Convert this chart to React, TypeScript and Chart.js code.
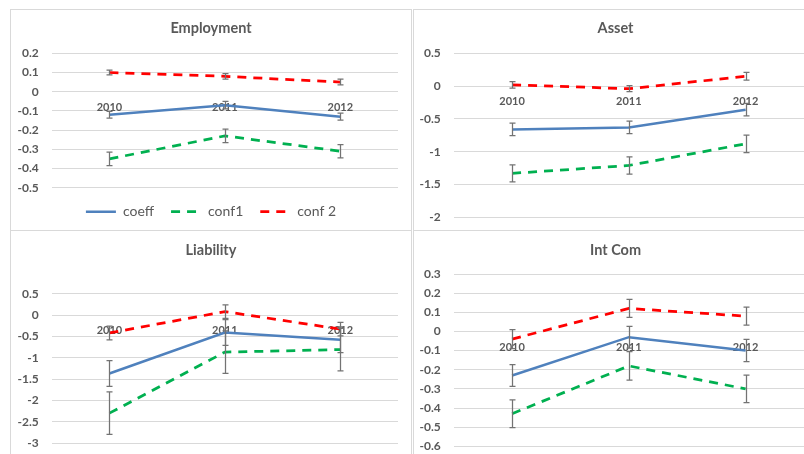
import { useEffect, useRef } from 'react';
import { Chart, registerables } from 'chart.js';

Chart.register(...registerables);
Chart.defaults.font.family = 'Lato, "Noto Sans", sans-serif';

// Category axis
const YEARS = ['2010', '2011', '2012'];
const SERIES_NAMES = ['coeff', 'conf1', 'conf 2'];

// Employment
const EMP_COEFF = [-0.12, -0.07, -0.13];
const EMP_CONF1 = [-0.35, -0.23, -0.31];
const EMP_CONF2 = [0.1, 0.08, 0.05];
const EMP_COEFF_ERR = [0.017, 0.02, 0.018];
const EMP_CONF1_ERR = [0.035, 0.035, 0.035];
const EMP_CONF2_ERR = [0.013, 0.014, 0.015];
const EMP_RANGE = [-0.5, 0.2, 0.1];

// Asset
const AST_COEFF = [-0.66, -0.63, -0.36];
const AST_CONF1 = [-1.33, -1.21, -0.88];
const AST_CONF2 = [0.02, -0.04, 0.15];
const AST_COEFF_ERR = [0.095, 0.095, 0.095];
const AST_CONF1_ERR = [0.13, 0.13, 0.133];
const AST_CONF2_ERR = [0.05, 0.046, 0.06];
const AST_RANGE = [-2, 0.5, 0.5];

// Liability
const LIA_COEFF = [-1.37, -0.41, -0.58];
const LIA_CONF1 = [-2.3, -0.87, -0.81];
const LIA_CONF2 = [-0.42, 0.08, -0.33];
const LIA_COEFF_ERR = [0.3, 0.3, 0.3];
const LIA_CONF1_ERR = [0.5, 0.5, 0.5];
const LIA_CONF2_ERR = [0.16, 0.16, 0.16];
const LIA_RANGE = [-3, 0.5, 0.5];

// Int Com
const INT_COEFF = [-0.23, -0.03, -0.1];
const INT_CONF1 = [-0.43, -0.18, -0.3];
const INT_CONF2 = [-0.04, 0.12, 0.08];
const INT_COEFF_ERR = [0.057, 0.057, 0.058];
const INT_CONF1_ERR = [0.072, 0.074, 0.072];
const INT_CONF2_ERR = [0.05, 0.047, 0.047];
const INT_RANGE = [-0.6, 0.3, 0.1];

const BLUE = '#4f81bd';
const GREEN = '#00b050';
const RED = '#ff0000';
const TEXT = '#595959';
const GRID = '#d9d9d9';
const ERR = '#737373';
const DASH = [9, 7];

// Draws symmetric error bars from each dataset's errorBars array
const errorBarPlugin = {
  id: 'errorBars',
  afterDatasetsDraw(chart: any) {
    const { ctx } = chart;
    const yScale = chart.scales.y;
    ctx.save();
    ctx.strokeStyle = ERR;
    ctx.lineWidth = 1.25;
    ctx.setLineDash([]);
    chart.data.datasets.forEach((ds: any, i: number) => {
      const meta = chart.getDatasetMeta(i);
      meta.data.forEach((pt: any, j: number) => {
        const v = ds.data[j];
        const e = ds.errorBars[j];
        const x = Math.round(pt.x) + 0.5;
        const yTop = yScale.getPixelForValue(v + e);
        const yBot = yScale.getPixelForValue(v - e);
        ctx.beginPath();
        ctx.moveTo(x, yTop);
        ctx.lineTo(x, yBot);
        ctx.moveTo(x - 3, yTop);
        ctx.lineTo(x + 3, yTop);
        ctx.moveTo(x - 3, yBot);
        ctx.lineTo(x + 3, yBot);
        ctx.stroke();
      });
    });
    ctx.restore();
  },
};

// Lets the value-axis labels use the whole left margin instead of being
// clipped to the axis box (the layout padding keeps the title centred).
const labelRoomPlugin = {
  id: 'labelRoom',
  afterLayout(chart: any) {
    if (chart.scales.y) chart.scales.y.left = 0;
  },
};

type Spec = {
  title: string;
  coeff: number[];
  conf1: number[];
  conf2: number[];
  errs: number[][];
  range: number[];
  legend: boolean;
  left: number;
  top: number;
  width: number;
  height: number;
  axisWidth: number;
  titleTop: number;
  titleBottom: number;
  padBottom: number;
};

const PANELS: Spec[] = [
  {
    title: 'Employment', coeff: EMP_COEFF, conf1: EMP_CONF1, conf2: EMP_CONF2,
    errs: [EMP_COEFF_ERR, EMP_CONF1_ERR, EMP_CONF2_ERR], range: EMP_RANGE, legend: true,
    left: 10, top: 9, width: 402, height: 222, axisWidth: 27.7,
    titleTop: 10.3, titleBottom: 16.6, padBottom: 2.3,
  },
  {
    title: 'Asset', coeff: AST_COEFF, conf1: AST_CONF1, conf2: AST_CONF2,
    errs: [AST_COEFF_ERR, AST_CONF1_ERR, AST_CONF2_ERR], range: AST_RANGE, legend: false,
    left: 413, top: 9, width: 405, height: 222, axisWidth: 26.7,
    titleTop: 10.3, titleBottom: 16.6, padBottom: 13.7,
  },
  {
    title: 'Liability', coeff: LIA_COEFF, conf1: LIA_CONF1, conf2: LIA_CONF2,
    errs: [LIA_COEFF_ERR, LIA_CONF1_ERR, LIA_CONF2_ERR], range: LIA_RANGE, legend: false,
    left: 10, top: 230, width: 402, height: 230, axisWidth: 27.7,
    titleTop: 12, titleBottom: 34.3, padBottom: 17,
  },
  {
    title: 'Int Com', coeff: INT_COEFF, conf1: INT_CONF1, conf2: INT_CONF2,
    errs: [INT_COEFF_ERR, INT_CONF1_ERR, INT_CONF2_ERR], range: INT_RANGE, legend: false,
    left: 413, top: 230, width: 405, height: 230, axisWidth: 26.7,
    titleTop: 12, titleBottom: 14.6, padBottom: 13.7,
  },
];

function Panel({ spec }: { spec: Spec }) {
  const ref = useRef<HTMLCanvasElement>(null);

  useEffect(() => {
    if (!ref.current) return;
    const [yMin, yMax, yStep] = spec.range;
    const colors = [BLUE, GREEN, RED];
    const values = [spec.coeff, spec.conf1, spec.conf2];
    const chart = new Chart(ref.current, {
      type: 'line',
      data: {
        labels: YEARS,
        datasets: values.map((data, i) => ({
          label: SERIES_NAMES[i],
          data,
          errorBars: spec.errs[i],
          borderColor: colors[i],
          backgroundColor: colors[i],
          borderWidth: i === 0 ? 2.5 : 2.75,
          borderDash: i === 0 ? [] : DASH,
          pointRadius: 0,
          pointHoverRadius: 0,
          tension: 0,
          fill: false,
        })) as any,
      },
      options: {
        responsive: false,
        animation: false,
        events: [],
        layout: { padding: { left: 14, right: 14, top: 0, bottom: spec.padBottom } },
        scales: {
          x: {
            type: 'category',
            offset: true,
            position: { y: 0 } as any,
            grid: { display: false, drawTicks: false, tickLength: 0 },
            border: { display: false },
            ticks: {
              padding: 9,
              color: TEXT,
              font: { size: 11, weight: 'bold' },
              maxRotation: 0,
              autoSkip: false,
            },
          },
          y: {
            min: yMin,
            max: yMax,
            grid: { color: GRID, lineWidth: 1, drawTicks: false },
            border: { display: false },
            ticks: {
              stepSize: yStep,
              padding: 13,
              color: TEXT,
              font: { size: 12, weight: 'bold' },
              callback: (v: any) => String(Math.round(Number(v) * 10) / 10),
            },
            afterFit: (scale: any) => {
              // fixed axis width; the end labels need no extra vertical room
              scale.width = spec.axisWidth;
              scale.paddingTop = 0;
              scale.paddingBottom = 0;
            },
          },
        },
        plugins: {
          title: {
            display: true,
            text: spec.title,
            color: TEXT,
            font: { size: 14.5, weight: 'bold' },
            padding: { top: spec.titleTop, bottom: spec.titleBottom },
          },
          legend: {
            display: spec.legend,
            position: 'bottom',
            labels: {
              usePointStyle: true,
              pointStyle: 'line',
              pointStyleWidth: 30,
              padding: 17,
              color: TEXT,
              font: { size: 14 },
              generateLabels: (c: any) =>
                c.data.datasets.map((ds: any, i: number) => ({
                  text: ds.label,
                  fillStyle: ds.borderColor,
                  strokeStyle: ds.borderColor,
                  lineWidth: ds.borderWidth,
                  lineDash: ds.borderDash,
                  pointStyle: 'line',
                  hidden: false,
                  fontColor: TEXT,
                  datasetIndex: i,
                })),
            },
          },
          tooltip: { enabled: false },
        },
      } as any,
      plugins: [labelRoomPlugin, errorBarPlugin],
    });
    return () => chart.destroy();
  }, [spec]);

  return (
    <div
      style={{
        position: 'absolute',
        left: spec.left,
        top: spec.top,
        width: spec.width,
        height: spec.height,
        background: '#fff',
      }}
    >
      <canvas ref={ref} width={spec.width} height={spec.height} style={{ display: 'block' }} />
      <div
        style={{
          position: 'absolute',
          inset: 0,
          border: `1px solid ${GRID}`,
          boxSizing: 'border-box',
          pointerEvents: 'none',
        }}
      />
    </div>
  );
}

export default function App() {
  return (
    <div
      style={{
        position: 'fixed',
        left: 0,
        top: 0,
        width: 804,
        height: 454,
        overflow: 'hidden',
        background: '#fff',
      }}
    >
      {PANELS.map((p) => (
        <Panel key={p.title} spec={p} />
      ))}
    </div>
  );
}
